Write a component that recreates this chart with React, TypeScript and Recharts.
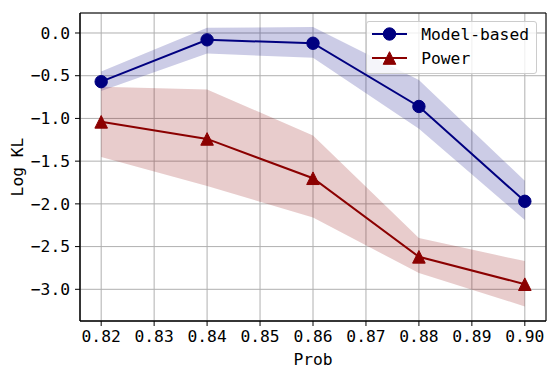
import { ComposedChart, Line, Area, XAxis, YAxis, CartesianGrid, ReferenceArea } from "recharts";

const probs = [0.82, 0.84, 0.86, 0.88, 0.9];

const modelMean = [-0.57, -0.08, -0.12, -0.86, -1.97];
const modelLow = [-0.68, -0.24, -0.29, -1.12, -2.19];
const modelHigh = [-0.45, 0.06, 0.07, -0.55, -1.73];

const powerMean = [-1.04, -1.24, -1.7, -2.62, -2.94];
const powerLow = [-1.45, -1.79, -2.16, -2.81, -3.2];
const powerHigh = [-0.63, -0.66, -1.2, -2.4, -2.67];

const xTicks = [0.82, 0.83, 0.84, 0.85, 0.86, 0.87, 0.88, 0.89, 0.9];
const yTicks = [0, -0.5, -1, -1.5, -2, -2.5, -3];
const xDomain = [0.816, 0.904];
const yDomain = [-3.371, 0.234];

const NAVY = "#000080";
const DARKRED = "#8b0000";
const FONT = "'DejaVu Sans Mono', monospace";
const FS = 16.3;

const data = probs.map((p, i) => ({
  prob: p,
  model: modelMean[i],
  modelBand: [modelLow[i], modelHigh[i]],
  power: powerMean[i],
  powerBand: [powerLow[i], powerHigh[i]],
}));

const series = [
  { name: "Model-based", color: NAVY, marker: "circle" },
  { name: "Power", color: DARKRED, marker: "triangle" },
];

function Marker({ cx, cy, kind, color }: { cx: number; cy: number; kind: string; color: string }) {
  if (kind === "triangle") {
    const s = 6.3;
    return (
      <polygon
        points={`${cx},${cy - s} ${cx - s},${cy + s} ${cx + s},${cy + s}`}
        fill={color}
        stroke={color}
        strokeWidth={1}
      />
    );
  }
  return <circle cx={cx} cy={cy} r={6.2} fill={color} stroke={color} strokeWidth={1} />;
}

function LegendBox() {
  return (
    <div
      style={{
        position: "absolute",
        top: 21,
        right: 21,
        border: "1px solid #cccccc",
        borderRadius: 3,
        background: "rgba(255,255,255,0.8)",
        padding: "0 7px 3px 5px",
        fontFamily: FONT,
        fontSize: FS,
        color: "#000",
      }}
    >
      {series.map((s) => (
        <div key={s.name} style={{ display: "flex", alignItems: "center", height: 24 }}>
          <svg width={36} height={24} style={{ marginRight: 13 }}>
            <line x1={0} y1={12} x2={35} y2={12} stroke={s.color} strokeWidth={2} />
            <Marker cx={17.5} cy={12} kind={s.marker} color={s.color} />
          </svg>
          <span>{s.name}</span>
        </div>
      ))}
    </div>
  );
}

const fmtY = (v: number) => (v < 0 ? "\u2212" : "") + Math.abs(v).toFixed(1);
const tickStyle = { fontFamily: FONT, fontSize: FS, fill: "#000" };

export default function App() {
  return (
    <div style={{ position: "absolute", left: 0, top: 0, width: 558, height: 376, background: "#fff" }}>
      <ComposedChart width={558} height={376} data={data} margin={{ top: 13, right: 12, bottom: 0, left: 0 }}>
        <Area
          dataKey="modelBand"
          stroke="none"
          fill={NAVY}
          fillOpacity={0.2}
          legendType="none"
          isAnimationActive={false}
        />
        <Area
          dataKey="powerBand"
          stroke="none"
          fill={DARKRED}
          fillOpacity={0.2}
          legendType="none"
          isAnimationActive={false}
        />
        <CartesianGrid stroke="#b0b0b0" strokeWidth={1} />
        <XAxis
          dataKey="prob"
          type="number"
          domain={xDomain}
          ticks={xTicks}
          allowDataOverflow
          tickFormatter={(v: number) => v.toFixed(2)}
          tick={tickStyle}
          tickSize={5}
          tickMargin={4}
          tickLine={{ stroke: "#000" }}
          axisLine={{ stroke: "#000" }}
          height={55}
          label={{ value: "Prob", position: "insideBottom", offset: 11, style: { fontFamily: FONT, fontSize: FS, fill: "#000" } }}
        />
        <YAxis
          type="number"
          domain={yDomain}
          ticks={yTicks}
          allowDataOverflow
          tickFormatter={fmtY}
          tick={tickStyle}
          tickSize={5}
          tickMargin={5}
          tickLine={{ stroke: "#000" }}
          axisLine={{ stroke: "#000" }}
          width={80}
          label={{
            content: (props: any) => {
              const vb = props.viewBox || { x: 0, y: 13, width: 80, height: 308 };
              const x = vb.x + 17;
              const y = vb.y + vb.height / 2;
              return (
                <text
                  x={x}
                  y={y}
                  transform={`rotate(-90 ${x} ${y})`}
                  textAnchor="middle"
                  dominantBaseline="central"
                  style={{ fontFamily: FONT, fontSize: FS, fill: "#000" }}
                >
                  Log KL
                </text>
              );
            },
          }}
        />
        <Line
          dataKey="model"
          name="Model-based"
          stroke={NAVY}
          strokeWidth={2}
          dot={(p: any) => <Marker key={`m${p.index}`} cx={p.cx} cy={p.cy} kind="circle" color={NAVY} />}
          activeDot={false}
          isAnimationActive={false}
        />
        <Line
          dataKey="power"
          name="Power"
          stroke={DARKRED}
          strokeWidth={2}
          dot={(p: any) => <Marker key={`p${p.index}`} cx={p.cx} cy={p.cy} kind="triangle" color={DARKRED} />}
          activeDot={false}
          isAnimationActive={false}
        />
        <ReferenceArea
          x1={xDomain[0]}
          x2={xDomain[1]}
          y1={yDomain[0]}
          y2={yDomain[1]}
          fill="none"
          stroke="#000"
          strokeWidth={1}
          fillOpacity={0}
        />
      </ComposedChart>
      <LegendBox />
    </div>
  );
}
